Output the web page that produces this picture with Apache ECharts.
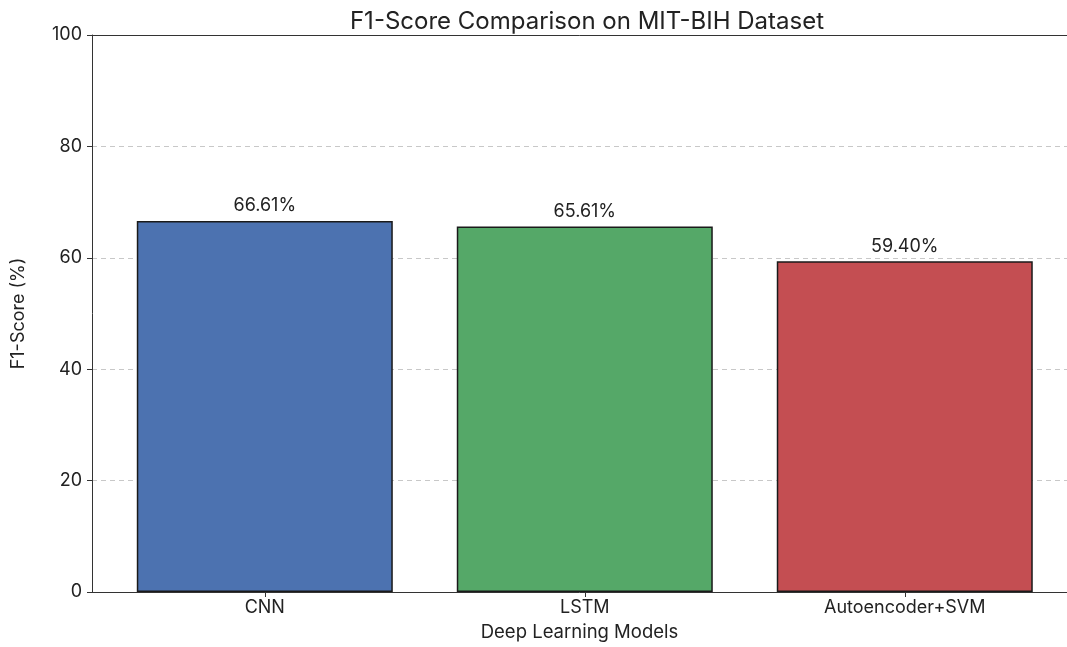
<!DOCTYPE html>
<html>
<head>
<meta charset="utf-8">
<script src="https://cdn.jsdelivr.net/npm/echarts@6/dist/echarts.min.js"></script>
<style>
  html, body { margin: 0; padding: 0; background: #fff; }
  #chart { width: 1067px; height: 647px; }
</style>
</head>
<body>
<div id="chart"></div>
<script>
// Chart data
const models = ['CNN', 'LSTM', 'Autoencoder+SVM'];
const f1Scores = [66.61, 65.61, 59.40];
const barColors = ['#4c72b0', '#55a868', '#c44e52'];
const yTicks = [0, 20, 40, 60, 80, 100];

const fontFamily = 'Inter, "Open Sans", sans-serif';
const chart = echarts.init(document.getElementById('chart'));

// the original plot runs past the right edge, so the x range is cut short
const options = {
  backgroundColor: '#fff',
  animation: false,
  title: {
    text: 'F1-Score Comparison on MIT-BIH Dataset',
    left: 582,
    textAlign: 'center',
    top: 5,
    textStyle: { fontFamily, fontSize: 24, fontWeight: 'normal', color: '#222' }
  },
  grid: {
    left: 92,
    right: 0,
    top: 35,
    bottom: 54
  },
  xAxis: [{
    type: 'value',
    min: -0.54,
    max: 2.507,
    name: 'Deep Learning Models',
    nameLocation: 'middle',
    nameGap: 31,
    nameTextStyle: { fontFamily, fontSize: 18.5, color: '#222' },
    axisLine: { show: true, onZero: false, lineStyle: { color: '#333' } },
    axisTick: { show: true, length: 5, customValues: [0, 1, 2], lineStyle: { color: '#333' } },
    axisLabel: {
      customValues: [0, 1, 2],
      formatter: v => models[Math.round(v)],
      fontFamily, fontSize: 18, color: '#222', margin: 7
    },
    splitLine: { show: false }
  }, {
    // top spine only
    type: 'value',
    position: 'top',
    min: -0.54,
    max: 2.507,
    axisLine: { show: true, onZero: false, lineStyle: { color: '#333' } },
    axisTick: { show: false },
    axisLabel: { show: false },
    splitLine: { show: false }
  }],
  yAxis: {
    type: 'value',
    min: 0,
    max: 100,
    interval: 20,
    name: 'F1-Score (%)',
    nameLocation: 'middle',
    nameGap: 64,
    nameRotate: 90,
    nameTextStyle: { fontFamily, fontSize: 18, color: '#222' },
    axisLine: { show: true, onZero: false, lineStyle: { color: '#333' } },
    axisTick: { show: true, length: 5, lineStyle: { color: '#333' } },
    axisLabel: {
      customValues: yTicks,
      fontFamily, fontSize: 18, color: '#222', margin: 10
    },
    splitLine: {
      show: true,
      lineStyle: { type: [5, 4], color: '#c8c8c8', width: 1 }
    }
  },
  series: [{
    type: 'bar',
    xAxisIndex: 0,
    barWidth: 256,
    data: f1Scores.map((v, i) => ({
      value: [i, v],
      itemStyle: { color: barColors[i] }
    })),
    itemStyle: { borderColor: '#1a1a1a', borderWidth: 1.5 },
    label: {
      show: true,
      position: 'top',
      distance: 6,
      formatter: p => p.value[1].toFixed(2) + '%',
      fontFamily, fontSize: 18, color: '#222'
    }
  }]
};

chart.setOption(options);
</script>
</body>
</html>
